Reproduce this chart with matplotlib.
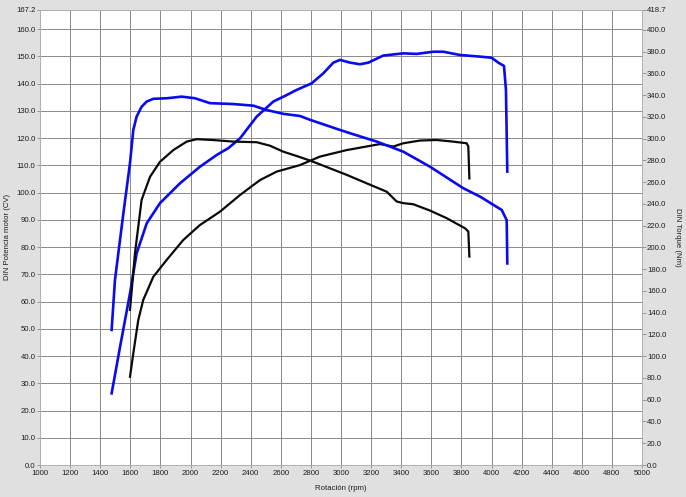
import matplotlib
matplotlib.use("Agg")
import matplotlib.pyplot as plt
import numpy as np

# ---- data ----
# Blue run: power (CV)
blue_pow_rpm = [1476, 1532, 1598, 1642, 1709, 1797, 1930, 2063, 2174, 2251, 2329, 2440, 2550, 2639,
                2706, 2805, 2883, 2949, 2993, 3060, 3126, 3182, 3281, 3414, 3502, 3613, 3680, 3791,
                3924, 4001, 4045, 4083, 4096, 4105]
blue_pow_cv = [26.3, 43.4, 63.0, 77.7, 88.7, 96.1, 103.4, 109.5, 113.8, 116.3, 119.9, 127.9, 133.4, 135.8,
               137.7, 140.1, 143.8, 147.7, 148.7, 147.7, 147.1, 147.7, 150.3, 151.1, 150.9, 151.7, 151.7, 150.5,
               149.9, 149.5, 147.7, 146.5, 137.7, 107.7]

# Blue run: torque (Nm)
blue_tq_rpm = [1476, 1498, 1554, 1598, 1620, 1642, 1675, 1709, 1753, 1842, 1941, 2030, 2130, 2284,
               2417, 2506, 2617, 2728, 2794, 2993, 3082, 3237, 3414, 3591, 3813, 3924, 4068, 4101, 4105]
blue_tq_nm = [124.2, 170.0, 231.4, 277.5, 308.0, 320.3, 329.3, 334.1, 336.6, 337.1, 338.6, 337.1, 332.6, 331.8,
              330.3, 326.3, 322.8, 320.8, 317.3, 308.0, 304.0, 297.3, 288.0, 274.2, 254.4, 246.7, 234.4, 225.1, 185.3]

# Black run: power (CV)
black_pow_rpm = [1598, 1620, 1653, 1686, 1753, 1842, 1952, 2063, 2196, 2329, 2462, 2573, 2728, 2860,
                 3038, 3259, 3348, 3414, 3525, 3635, 3746, 3835, 3846, 3853]
black_pow_cv = [32.4, 41.0, 53.2, 60.6, 69.1, 75.3, 82.6, 88.1, 93.0, 99.1, 104.6, 107.7, 110.1, 113.2,
                115.6, 117.8, 116.9, 118.1, 119.1, 119.3, 118.7, 118.1, 116.9, 105.2]

# Black run: torque (Nm)
black_tq_rpm = [1598, 1631, 1675, 1731, 1797, 1886, 1975, 2041, 2151, 2284, 2440, 2528, 2617, 2728,
                2816, 3038, 3171, 3304, 3370, 3414, 3480, 3591, 3702, 3824, 3846, 3853]
black_tq_nm = [142.5, 194.6, 243.6, 264.9, 278.7, 289.5, 297.3, 299.5, 298.7, 297.3, 296.7, 293.5, 288.0, 283.0,
               278.7, 266.7, 258.9, 251.2, 242.2, 240.7, 239.7, 233.9, 226.9, 217.6, 214.6, 191.6]

x_ticks = list(range(1000, 5001, 200))
left_ticks = [0, 10, 20, 30, 40, 50, 60, 70, 80, 90, 100, 110, 120, 130, 140, 150, 160, 167.2]
right_ticks = [0, 20, 40, 60, 80, 100, 120, 140, 160, 180, 200, 220, 240, 260, 280, 300, 320, 340,
               360, 380, 400, 418.7]

# ---- figure ----
plt.rcParams['font.family'] = ['Liberation Sans', 'DejaVu Sans']
fig = plt.figure(figsize=(6.86, 4.97), dpi=100, facecolor='#e0e0e0')
W, H = 686, 497
l, r, t, b = 40, 642, 9.5, 465
ax = fig.add_axes([l / W, (H - b) / H, (r - l) / W, (b - t) / H])
ax.set_facecolor('white')
ax.set_xlim(1000, 5000)
ax.set_ylim(0, 167.2)

ax2 = ax.twinx()
ax2.set_ylim(0, 418.7)

fs = 5.6
tc = '#1e1e1e'
gc = '#8a8a8a'

ax.set_xticks(x_ticks)
ax.set_xticklabels([str(v) for v in x_ticks], fontsize=fs, color=tc)
ax.set_yticks(left_ticks)
ax.set_yticklabels([f"{v:.1f}" for v in left_ticks], fontsize=fs, color=tc)
ax2.set_yticks(right_ticks)
ax2.set_yticklabels([f"{v:.1f}" for v in right_ticks], fontsize=fs, color=tc)

ax.grid(True, color=gc, linewidth=0.7)
ax.set_axisbelow(True)
ax.tick_params(axis='both', length=2.5, width=0.6, color=gc, pad=0.8)
ax2.tick_params(axis='y', length=3, width=0.6, color=gc, pad=0.5)

for a in (ax, ax2):
    for s in a.spines.values():
        s.set_color('#b0b0b0')
        s.set_linewidth(0.6)

ax.plot(blue_pow_rpm, blue_pow_cv, color='#0a0aee', lw=1.9, solid_joinstyle='round', zorder=3)
ax2.plot(blue_tq_rpm, blue_tq_nm, color='#0a0aee', lw=1.9, solid_joinstyle='round', zorder=3)
ax.plot(black_pow_rpm, black_pow_cv, color='#0a0a0a', lw=1.6, solid_joinstyle='round', zorder=3)
ax2.plot(black_tq_rpm, black_tq_nm, color='#0a0a0a', lw=1.6, solid_joinstyle='round', zorder=3)

fig.text(341 / W, 1 - 488 / H, 'Rotación (rpm)', ha='center', va='center', fontsize=fs, color=tc)
fig.text(8 / W, 1 - 237 / H, 'DIN Potencia motor (CV)', ha='center', va='center', rotation=90,
         fontsize=fs, color=tc)
fig.text(677 / W, 1 - 237 / H, 'DIN Torque (Nm)', ha='center', va='center', rotation=270,
         fontsize=fs, color=tc)

fig.savefig('out.png', dpi=100, facecolor=fig.get_facecolor())
